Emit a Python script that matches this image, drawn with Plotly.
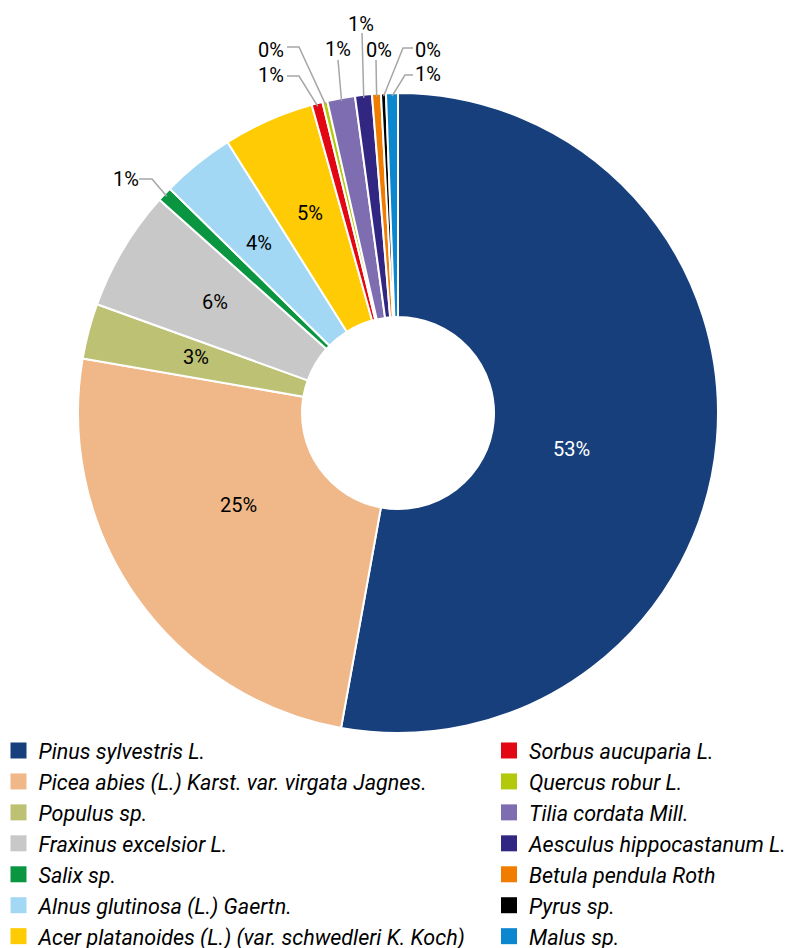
import math
import plotly.graph_objects as go

species = [
    "Pinus sylvestris L.",
    "Picea abies (L.) Karst. var. virgata Jagnes.",
    "Populus sp.",
    "Fraxinus excelsior L.",
    "Salix sp.",
    "Alnus glutinosa (L.) Gaertn.",
    "Acer platanoides (L.) (var. schwedleri K. Koch)",
    "Sorbus aucuparia L.",
    "Quercus robur L.",
    "Tilia cordata Mill.",
    "Aesculus hippocastanum L.",
    "Betula pendula Roth",
    "Pyrus sp.",
    "Malus sp.",
]
shares = [52.9, 24.9, 2.8, 6.1, 0.75, 3.7, 4.6, 0.55, 0.25, 1.4, 0.85, 0.45, 0.25, 0.6]
colors = ["#173f7c", "#f0b888", "#bdc173", "#c8c8c8", "#0a9641", "#a3d8f5", "#ffcb05",
          "#e30613", "#b2c90c", "#7e6db0", "#312783", "#f07d00", "#000000", "#0a87cf"]

# ---- layout geometry (figure pixels) ----
W, H = 792, 948
cx, cy, R = 390, 405, 320
HOLE = 0.3

def px(x):
    return x / W

def py(y):
    return 1 - y / H

# label centres (figure pixels) and leader-line attachment points
label_pos = [(563, 441), (230, 497), (188, 349), (207, 294), (118, 171), (251, 235), (302, 205),
             (263, 67), (263, 42), (330, 41), (353, 16), (371, 42), (420, 42), (420, 66)]
leaders = {
    4: [(131, 171), (144, 171)],
    7: [(279, 68), (291, 68)],
    8: [(279, 39), (291, 39)],
    9: [(330, 52)],
    10: [(354, 25)],
    11: [(368, 52)],
    12: [(405, 40), (395, 40)],
    13: [(405, 67), (397, 67)],
}

total = sum(shares)
labels_txt = [f"{round(100 * v / total)}%" for v in shares]

fig = go.Figure()
fig.add_trace(go.Pie(
    labels=species, values=shares, sort=False, direction="clockwise", rotation=0,
    hole=HOLE,
    marker=dict(colors=colors, line=dict(color="white", width=2)),
    textinfo="none", hoverinfo="label+percent",
    domain=dict(x=[px(cx - R), px(cx + R)], y=[py(cy + R), py(cy - R)]),
    showlegend=False, automargin=False,
))

annotations = []
shapes = []
cum = 0.0
for i, v in enumerate(shares):
    mid = (cum + v / 2) / total * 2 * math.pi
    cum += v
    lx, ly = label_pos[i]
    annotations.append(dict(
        x=px(lx), y=py(ly), xref="paper", yref="paper", text=labels_txt[i],
        showarrow=False, xanchor="center", yanchor="middle",
        font=dict(family="Roboto", size=20, color="white" if i == 0 else "black"),
    ))
    if i in leaders:
        ax = cx + (R - 3) * math.sin(mid)
        ay = cy - (R - 3) * math.cos(mid)
        pts = leaders[i] + [(ax, ay)]
        path = "M " + " L ".join(f"{px(x):.5f},{py(y):.5f}" for x, y in pts)
        shapes.append(dict(type="path", xref="paper", yref="paper", path=path,
                           line=dict(color="#a6a6a6", width=1.5)))

for i, (name, col) in enumerate(zip(species, colors)):
    fig.add_trace(go.Scatter(
        x=[None], y=[None], mode="markers", name="<i>" + name + "</i>",
        marker=dict(symbol="square", size=18, color=col),
        legend="legend" if i < 7 else "legend2",
    ))

legend_font = dict(family="Roboto", size=21.5, color="black")
fig.update_layout(
    width=W, height=H, margin=dict(l=0, r=0, t=0, b=0, autoexpand=False),
    paper_bgcolor="white", plot_bgcolor="white",
    font=dict(family="Roboto"),
    xaxis=dict(visible=False), yaxis=dict(visible=False),
    annotations=annotations, shapes=shapes,
    legend=dict(x=-9.5 / W, y=py(722), xanchor="left", yanchor="top",
                font=legend_font, itemclick=False, tracegroupgap=0,
                bgcolor="rgba(0,0,0,0)"),
    legend2=dict(x=481 / W, y=py(722), xanchor="left", yanchor="top",
                 font=legend_font, itemclick=False, tracegroupgap=0,
                 bgcolor="rgba(0,0,0,0)"),
)

fig.write_html("out.html")
